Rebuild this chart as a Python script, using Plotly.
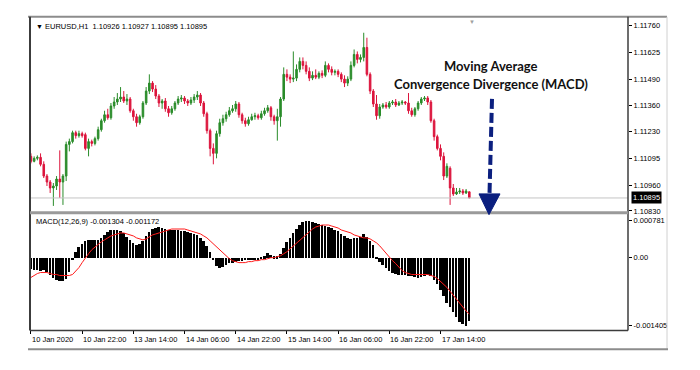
import plotly.graph_objects as go

# ---------------- data ----------------
symbol_label = "EURUSD,H1  1.10926 1.10927 1.10895 1.10895"
macd_label = "MACD(12,26,9) -0.001304 -0.001172"
x_tick_labels = ["10 Jan 2020", "10 Jan 22:00", "13 Jan 14:00", "14 Jan 06:00", "14 Jan 22:00",
                 "15 Jan 14:00", "16 Jan 06:00", "16 Jan 22:00", "17 Jan 14:00"]
x_tick_bars = [0, 16, 32, 48, 64, 80, 96, 112, 128]
price_ticks = [1.11760, 1.11625, 1.11490, 1.11360, 1.11230, 1.11095, 1.10960, 1.10830]
price_tick_text = ["1.11760", "1.11625", "1.11490", "1.11360", "1.11230", "1.11095", "1.10960", "1.10830"]
macd_ticks = [0.000781, 0.0, -0.001405]
macd_tick_text = ["0.000781", "0.00", "-0.001405"]
last_price = 1.10895

opens = [1.11104,1.11079,1.11094,1.11099,1.11064,1.11005,1.10975,1.10945,1.10955,1.10990,
         1.10975,1.11005,1.11164,1.11178,1.11223,1.11208,1.11218,1.11213,1.11144,1.11178,
         1.11169,1.11193,1.11238,1.11283,1.11313,1.11298,1.11357,1.11377,1.11392,1.11402,
         1.11382,1.11392,1.11333,1.11303,1.11273,1.11303,1.11372,1.11432,1.11472,1.11442,
         1.11407,1.11372,1.11382,1.11343,1.11323,1.11343,1.11372,1.11392,1.11397,1.11382,
         1.11372,1.11387,1.11402,1.11412,1.11372,1.11318,1.11233,1.11144,1.11119,1.11218,
         1.11273,1.11293,1.11313,1.11333,1.11343,1.11367,1.11313,1.11283,1.11268,1.11288,
         1.11303,1.11308,1.11298,1.11318,1.11333,1.11348,1.11303,1.11283,1.11303,1.11392,
         1.11516,1.11502,1.11492,1.11497,1.11541,1.11581,1.11561,1.11531,1.11497,1.11511,
         1.11502,1.11521,1.11511,1.11561,1.11541,1.11526,1.11531,1.11516,1.11492,1.11472,
         1.11492,1.11561,1.11616,1.11591,1.11601,1.11651,1.11516,1.11432,1.11367,1.11308,
         1.11352,1.11362,1.11352,1.11372,1.11377,1.11362,1.11372,1.11377,1.11372,1.11333,
         1.11313,1.11343,1.11372,1.11392,1.11397,1.11377,1.11283,1.11203,1.11144,1.11104,
         1.11005,1.11044,1.10945,1.10915,1.10925,1.10930,1.10920,1.10926]
highs = [1.11119,1.11104,1.11109,1.11119,1.11079,1.11015,1.10985,1.10970,1.11005,1.11134,
         1.11015,1.11178,1.11193,1.11233,1.11233,1.11233,1.11228,1.11223,1.11193,1.11188,
         1.11203,1.11253,1.11293,1.11333,1.11343,1.11372,1.11402,1.11422,1.11452,1.11432,
         1.11417,1.11402,1.11343,1.11318,1.11313,1.11382,1.11452,1.11516,1.11482,1.11462,
         1.11417,1.11392,1.11397,1.11357,1.11357,1.11382,1.11407,1.11412,1.11407,1.11392,
         1.11402,1.11417,1.11432,1.11422,1.11382,1.11328,1.11243,1.11169,1.11233,1.11293,
         1.11313,1.11328,1.11352,1.11362,1.11382,1.11377,1.11323,1.11298,1.11303,1.11318,
         1.11323,1.11318,1.11333,1.11348,1.11362,1.11357,1.11313,1.11343,1.11402,1.11551,
         1.11541,1.11516,1.11631,1.11566,1.11601,1.11601,1.11581,1.11551,1.11531,1.11541,
         1.11531,1.11536,1.11581,1.11571,1.11556,1.11541,1.11541,1.11526,1.11511,1.11506,
         1.11581,1.11641,1.11631,1.11616,1.11725,1.11700,1.11526,1.11442,1.11412,1.11367,
         1.11372,1.11377,1.11382,1.11387,1.11392,1.11382,1.11387,1.11382,1.11422,1.11348,
         1.11352,1.11382,1.11402,1.11407,1.11407,1.11387,1.11293,1.11213,1.11164,1.11124,
         1.11069,1.11054,1.10965,1.10945,1.10945,1.10940,1.10940,1.10927]
lows = [1.11069,1.11074,1.11084,1.11054,1.10995,1.10955,1.10920,1.10855,1.10935,1.10895,
        1.10860,1.10980,1.11129,1.11169,1.11193,1.11198,1.11198,1.11134,1.11104,1.11154,
        1.11159,1.11183,1.11228,1.11273,1.11288,1.11288,1.11343,1.11362,1.11377,1.11372,
        1.11362,1.11323,1.11283,1.11253,1.11263,1.11293,1.11362,1.11417,1.11427,1.11392,
        1.11352,1.11343,1.11328,1.11303,1.11313,1.11333,1.11362,1.11377,1.11367,1.11357,
        1.11362,1.11372,1.11387,1.11357,1.11303,1.11218,1.11104,1.11064,1.11094,1.11203,
        1.11258,1.11278,1.11303,1.11323,1.11328,1.11298,1.11268,1.11253,1.11258,1.11283,
        1.11288,1.11288,1.11288,1.11308,1.11323,1.11283,1.11263,1.11183,1.11253,1.11382,
        1.11482,1.11472,1.11477,1.11482,1.11526,1.11541,1.11516,1.11482,1.11487,1.11492,
        1.11492,1.11497,1.11502,1.11526,1.11511,1.11511,1.11502,1.11477,1.11452,1.11457,
        1.11482,1.11551,1.11571,1.11576,1.11581,1.11506,1.11417,1.11352,1.11288,1.11293,
        1.11343,1.11343,1.11343,1.11362,1.11352,1.11357,1.11362,1.11362,1.11318,1.11303,
        1.11303,1.11333,1.11362,1.11382,1.11362,1.11273,1.11183,1.11134,1.11084,1.10985,
        1.10995,1.10860,1.10905,1.10910,1.10915,1.10910,1.10915,1.10895]
closes = [1.11079,1.11094,1.11099,1.11064,1.11005,1.10975,1.10945,1.10955,1.10990,1.10975,
          1.11005,1.11164,1.11178,1.11223,1.11208,1.11218,1.11208,1.11144,1.11178,1.11169,
          1.11193,1.11238,1.11283,1.11313,1.11298,1.11357,1.11377,1.11392,1.11402,1.11382,
          1.11392,1.11333,1.11303,1.11273,1.11303,1.11372,1.11432,1.11472,1.11442,1.11407,
          1.11372,1.11382,1.11343,1.11323,1.11343,1.11372,1.11392,1.11397,1.11382,1.11372,
          1.11387,1.11402,1.11412,1.11372,1.11318,1.11233,1.11144,1.11119,1.11218,1.11273,
          1.11293,1.11313,1.11333,1.11343,1.11367,1.11313,1.11283,1.11268,1.11288,1.11303,
          1.11308,1.11298,1.11318,1.11333,1.11348,1.11303,1.11283,1.11303,1.11392,1.11516,
          1.11502,1.11492,1.11497,1.11541,1.11581,1.11561,1.11531,1.11497,1.11511,1.11502,
          1.11521,1.11511,1.11561,1.11541,1.11526,1.11531,1.11516,1.11492,1.11472,1.11492,
          1.11561,1.11616,1.11591,1.11601,1.11651,1.11516,1.11432,1.11367,1.11308,1.11352,
          1.11362,1.11352,1.11372,1.11377,1.11362,1.11372,1.11377,1.11372,1.11333,1.11313,
          1.11343,1.11372,1.11392,1.11397,1.11377,1.11283,1.11203,1.11144,1.11104,1.11005,
          1.11054,1.10945,1.10915,1.10925,1.10930,1.10920,1.10930,1.10895]

macd_main = [-227e-6,-247e-6,-247e-6,-268e-6,-247e-6,-288e-6,-350e-6,-412e-6,-453e-6,-474e-6,
             -474e-6,-433e-6,-288e-6,-21e-6,124e-6,227e-6,288e-6,350e-6,371e-6,371e-6,
             371e-6,371e-6,412e-6,474e-6,536e-6,577e-6,577e-6,577e-6,556e-6,515e-6,
             433e-6,371e-6,309e-6,268e-6,288e-6,350e-6,453e-6,536e-6,597e-6,618e-6,
             639e-6,618e-6,597e-6,577e-6,577e-6,577e-6,577e-6,556e-6,556e-6,536e-6,
             515e-6,494e-6,474e-6,412e-6,350e-6,247e-6,124e-6,-41e-6,-165e-6,-206e-6,
             -185e-6,-144e-6,-103e-6,-103e-6,-82e-6,-62e-6,-62e-6,-41e-6,-41e-6,-41e-6,
             -21e-6,-21e-6,21e-6,41e-6,103e-6,62e-6,41e-6,41e-6,82e-6,206e-6,
             330e-6,412e-6,515e-6,597e-6,680e-6,742e-6,781e-6,762e-6,742e-6,721e-6,
             700e-6,680e-6,659e-6,639e-6,618e-6,577e-6,556e-6,494e-6,453e-6,412e-6,
             391e-6,412e-6,412e-6,433e-6,494e-6,433e-6,350e-6,268e-6,21e-6,-82e-6,
             -144e-6,-206e-6,-268e-6,-309e-6,-330e-6,-350e-6,-350e-6,-350e-6,-371e-6,-371e-6,
             -391e-6,-412e-6,-391e-6,-371e-6,-350e-6,-371e-6,-453e-6,-536e-6,-659e-6,-783e-6,
             -927e-6,-1030e-6,-1133e-6,-1236e-6,-1339e-6,-1380e-6,-1405e-6,-1304e-6]
macd_signal = [-412e-6,-371e-6,-330e-6,-309e-6,-309e-6,-309e-6,-330e-6,-350e-6,-350e-6,-371e-6,
               -371e-6,-371e-6,-371e-6,-350e-6,-288e-6,-206e-6,-103e-6,0.0,82e-6,165e-6,
               227e-6,288e-6,330e-6,371e-6,412e-6,453e-6,474e-6,494e-6,515e-6,515e-6,
               494e-6,474e-6,453e-6,412e-6,391e-6,371e-6,391e-6,433e-6,474e-6,494e-6,
               515e-6,536e-6,556e-6,577e-6,597e-6,597e-6,597e-6,597e-6,597e-6,577e-6,
               556e-6,536e-6,515e-6,494e-6,453e-6,412e-6,350e-6,288e-6,206e-6,144e-6,
               82e-6,21e-6,-21e-6,-62e-6,-82e-6,-103e-6,-103e-6,-103e-6,-82e-6,-82e-6,
               -62e-6,-62e-6,-41e-6,-41e-6,-21e-6,0.0,0.0,21e-6,41e-6,82e-6,
               124e-6,185e-6,247e-6,288e-6,350e-6,412e-6,474e-6,536e-6,597e-6,639e-6,
               659e-6,680e-6,680e-6,680e-6,659e-6,639e-6,618e-6,577e-6,556e-6,536e-6,
               515e-6,474e-6,453e-6,433e-6,412e-6,412e-6,391e-6,350e-6,309e-6,247e-6,
               165e-6,82e-6,21e-6,-62e-6,-124e-6,-206e-6,-268e-6,-309e-6,-330e-6,-350e-6,
               -350e-6,-350e-6,-350e-6,-350e-6,-350e-6,-371e-6,-391e-6,-433e-6,-494e-6,-556e-6,
               -618e-6,-700e-6,-783e-6,-865e-6,-948e-6,-1030e-6,-1112e-6,-1172e-6]

bars = list(range(len(closes)))

# ---------------- layout helpers ----------------
W, H = 700, 370
def px(x):
    return x / W
def py(y):
    return 1 - y / H

FONT = "Liberation Sans, Arial, sans-serif"
GREEN = "#2a8c2a"
RED = "#dc143c"

fig = go.Figure()

fig.add_trace(go.Candlestick(
    x=bars, open=opens, high=highs, low=lows, close=closes,
    increasing=dict(line=dict(color=GREEN, width=1), fillcolor=GREEN),
    decreasing=dict(line=dict(color=RED, width=1), fillcolor=RED),
    whiskerwidth=0, hoverinfo="skip", showlegend=False,
    xaxis="x", yaxis="y",
))

fig.add_trace(go.Bar(
    x=bars, y=macd_main, marker=dict(color="#000000", line=dict(width=0)),
    width=0.62, hoverinfo="skip", showlegend=False, xaxis="x2", yaxis="y2",
))
fig.add_trace(go.Scatter(
    x=bars, y=macd_signal, mode="lines", line=dict(color="#ff1a1a", width=1),
    hoverinfo="skip", showlegend=False, xaxis="x2", yaxis="y2",
))

xr = [-0.3, 186.6]
common_x = dict(range=xr, showgrid=False, zeroline=False, showline=False, fixedrange=True)
fig.update_layout(
    width=W, height=H, margin=dict(l=0, r=0, t=0, b=0),
    paper_bgcolor="white", plot_bgcolor="white",
    font=dict(family=FONT, size=7.5, color="#000000"),
    bargap=0,
    xaxis=dict(domain=[px(30), px(628)], anchor="y", showticklabels=False, ticks="",
               rangeslider=dict(visible=False), **common_x),
    xaxis2=dict(domain=[px(30), px(628)], anchor="y2", matches="x",
                tickmode="array", tickvals=x_tick_bars, ticktext=[""] * len(x_tick_bars),
                ticks="outside", ticklen=3, tickcolor="#000000", tickwidth=1,
                **common_x),
    yaxis=dict(domain=[py(214), py(18)], anchor="x", side="right",
               range=[1.10826, 1.11800], tickmode="array",
               tickvals=price_ticks, ticktext=price_tick_text,
               ticks="outside", ticklen=3, tickcolor="#000000",
               showgrid=False, zeroline=False, showline=False,
               tickfont=dict(size=7.5, family=FONT)),
    yaxis2=dict(domain=[py(334), py(217)], anchor="x2", side="right",
                range=[-0.001514, 0.000896], tickmode="array",
                tickvals=macd_ticks, ticktext=macd_tick_text,
                ticks="outside", ticklen=3, tickcolor="#000000",
                showgrid=False, zeroline=False, showline=False,
                tickfont=dict(size=7.5, family=FONT)),
)

shapes = []
# current price line
shapes.append(dict(type="line", xref="paper", yref="y", x0=px(30), x1=px(628),
                   y0=last_price, y1=last_price, line=dict(color="#c4c4c4", width=1)))
# frame lines
frame = [
    (28, 17, 667, 17, "#8c8c8c", 2),
    (30, 17, 30, 334, "#3c3c3c", 2),
    (628, 17, 628, 334, "#3c3c3c", 1.5),
    (30, 215, 628, 215, "#9a9a9a", 3),
    (30, 334, 628, 334, "#3c3c3c", 1.5),
    (667, 17, 667, 353, "#d0d0d0", 1),
    (28, 353, 668, 353, "#8c8c8c", 2),
]
for x0, y0, x1, y1, c, w in frame:
    shapes.append(dict(type="line", xref="paper", yref="paper",
                       x0=px(x0), y0=py(y0), x1=px(x1), y1=py(y1),
                       line=dict(color=c, width=w)))
# dashed arrow
shapes.append(dict(type="line", xref="paper", yref="paper",
                   x0=px(492), y0=py(100), x1=px(489.5), y1=py(196),
                   line=dict(color="#0b1f7f", width=4, dash="10px,4px")))
shapes.append(dict(type="path", xref="paper", yref="paper",
                   path=f"M {px(479)},{py(196)} L {px(500)},{py(196)} L {px(489)},{py(217)} Z",
                   fillcolor="#0b1f7f", line=dict(color="#0b1f7f", width=1)))
fig.update_layout(shapes=shapes)

ann = []
ann.append(dict(text="▼", x=px(34), y=py(27), xref="paper", yref="paper",
                xanchor="left", yanchor="middle", showarrow=False,
                font=dict(size=7, color="#000000", family=FONT)))
ann.append(dict(text=symbol_label, x=px(43), y=py(27), xref="paper", yref="paper",
                xanchor="left", yanchor="middle", showarrow=False,
                font=dict(size=7.5, color="#000000", family=FONT)))
ann.append(dict(text=macd_label, x=px(34), y=py(224), xref="paper", yref="paper",
                xanchor="left", yanchor="middle", showarrow=False,
                font=dict(size=7.5, color="#000000", family=FONT)))
ann.append(dict(text="▼", x=px(472), y=py(22), xref="paper", yref="paper",
                xanchor="center", yanchor="middle", showarrow=False,
                font=dict(size=6, color="#a0a0a0", family=FONT)))
for b, lab in zip(x_tick_bars, x_tick_labels):
    ann.append(dict(text=lab, x=b, y=py(343), xref="x2", yref="paper",
                    xanchor="left", yanchor="middle", showarrow=False, xshift=-1,
                    font=dict(size=7.5, color="#000000", family=FONT)))
ann.append(dict(text=f"{last_price:.5f}", x=px(631), y=last_price, xref="paper", yref="y",
                xanchor="left", yanchor="middle", showarrow=False,
                bgcolor="#000000", borderpad=1,
                font=dict(size=7.5, color="#ffffff", family=FONT)))
ann.append(dict(text="<b>Moving Average</b>", x=px(491), y=py(67), xref="paper", yref="paper",
                xanchor="center", yanchor="middle", showarrow=False,
                font=dict(size=13, color="#111111", family="Lato, sans-serif")))
ann.append(dict(text="<b>Convergence Divergence (MACD)</b>", x=px(491), y=py(85),
                xref="paper", yref="paper", xanchor="center", yanchor="middle", showarrow=False,
                font=dict(size=13, color="#111111", family="Lato, sans-serif")))
fig.update_layout(annotations=ann)

fig.write_html("out.html", config={"displayModeBar": False},
               post_script="document.body.style.margin='0';document.body.style.padding='0';")
